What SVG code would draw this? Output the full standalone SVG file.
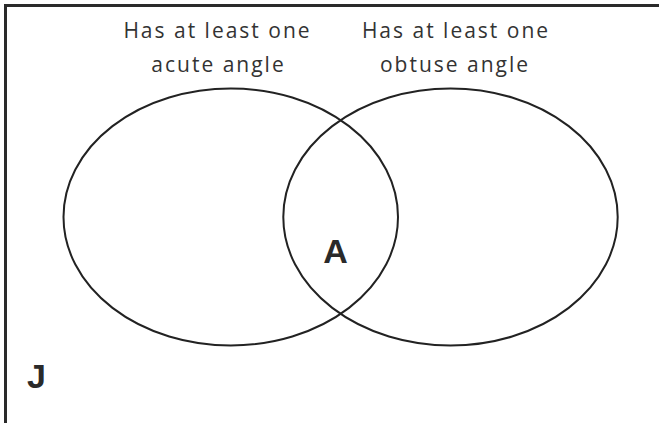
<svg xmlns="http://www.w3.org/2000/svg" width="659" height="423" viewBox="0 0 659 423">
<style>
.frame{fill:none;stroke:#2a2a2a;stroke-width:3}
.set{fill:none;stroke:#222;stroke-width:2}
.lbl{font-family:"Open Sans","Noto Sans",sans-serif;font-size:21px;letter-spacing:2px;fill:#333;text-anchor:middle}
.big{font-family:"Liberation Sans",Arial,sans-serif;font-weight:bold;font-size:34px;fill:#2a2a2a}
</style>
<rect width="659" height="423" fill="#fff"/>
<path class="frame" d="M5.5,423 V5.5 H659"/>
<g id="set-acute">
<ellipse class="set" cx="230.75" cy="217" rx="167.25" ry="128.5"/>
<text class="lbl" x="217.5" y="38">Has at least one</text>
<text class="lbl" x="218.5" y="72">acute angle</text>
</g>
<g id="set-obtuse">
<ellipse class="set" cx="450.5" cy="217" rx="167.2" ry="128.5"/>
<text class="lbl" x="456" y="38">Has at least one</text>
<text class="lbl" x="455" y="72">obtuse angle</text>
</g>
<g id="label-A"><text class="big" x="335.5" y="263" text-anchor="middle">A</text></g>
<g id="label-J"><text class="big" x="27" y="388">J</text></g>
</svg>
